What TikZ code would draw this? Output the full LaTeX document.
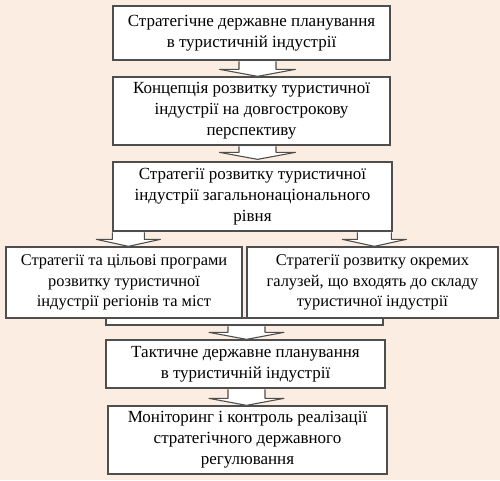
\documentclass[tikz,border=0pt]{standalone}
\usepackage{fontspec}
\setmainfont{Liberation Serif}
\usetikzlibrary{calc}
\definecolor{pagebg}{RGB}{251,237,225}
\definecolor{edge}{RGB}{78,78,78}
% #1 point on the lower edge of a box, #2 tip, #3 half shaft, #4 half head
\newcommand{\flowarrow}[4]{%
  \filldraw[arrowline] let \p1=(#1), \p2=(#2) in
    (\x2-#3pt,\y1-.6pt) -- (\x2-#3pt,\y2+7pt) -- (\x2-#4pt,\y2+7pt) -- (\x2,\y2)
    -- (\x2+#4pt,\y2+7pt) -- (\x2+#3pt,\y2+7pt) -- (\x2+#3pt,\y1-.6pt);}

\begin{document}
\begin{tikzpicture}[x=1pt,y=-1pt,
  stage/.style={draw=edge,line width=1.3pt,fill=white,inner sep=0pt,align=center,
    font=\fontsize{17}{21}\selectfont},
  side/.style={stage,font=\fontsize{16.4}{20.5}\selectfont},
  arrowline/.style={draw=edge,line width=1.1pt,fill=white,line join=round}]
  \fill[pagebg] (0,0) rectangle (500,480);
  \useasboundingbox (0,0) rectangle (500,480);

  \node[stage,minimum width=277,minimum height=54] (plan) at (251.5,33)
    {Стратегічне державне планування\\в туристичній індустрії};
  \node[stage,minimum width=277,minimum height=68] (concept) at (251.5,111)
    {Концепція розвитку туристичної\\індустрії на довгострокову\\перспективу};
  \node[stage,minimum width=279,minimum height=69] (national) at (252.5,196.5)
    {Стратегії розвитку туристичної\\індустрії загальнонаціонального\\рівня};
  \node[side,minimum width=236,minimum height=71] (regions) at (124,282.5)
    {Стратегії та цільові програми\\розвитку туристичної\\індустрії регіонів та міст};
  \node[side,minimum width=251,minimum height=71] (branches) at (372.5,282.5)
    {Стратегії розвитку окремих\\галузей, що входять до складу\\туристичної індустрії};
  \node[stage,minimum width=277,minimum height=7] (merge) at (244.5,321.5) {};
  \node[stage,minimum width=279,minimum height=48] (tactic) at (245.5,364)
    {Тактичне державне планування\\в туристичній індустрії};
  \node[stage,minimum width=279,minimum height=68] (control) at (247.5,440)
    {Моніторинг і контроль реалізації\\стратегічного державного\\регулювання};

  \flowarrow{plan.south}{$(concept.north)+(6,0)$}{18.5}{38}
  \flowarrow{concept.south}{$(national.north)+(5,-2)$}{18.5}{38}
  \flowarrow{national.south}{$(regions.north west)+(123,0)$}{16}{32}
  \flowarrow{national.south}{$(branches.north west)+(128,0)$}{17}{32}
  \flowarrow{merge.south}{$(tactic.north)+(1,0)$}{18.5}{37.5}
  \flowarrow{tactic.south}{$(control.north)+(-1,0)$}{18.5}{37.5}
\end{tikzpicture}
\end{document}
